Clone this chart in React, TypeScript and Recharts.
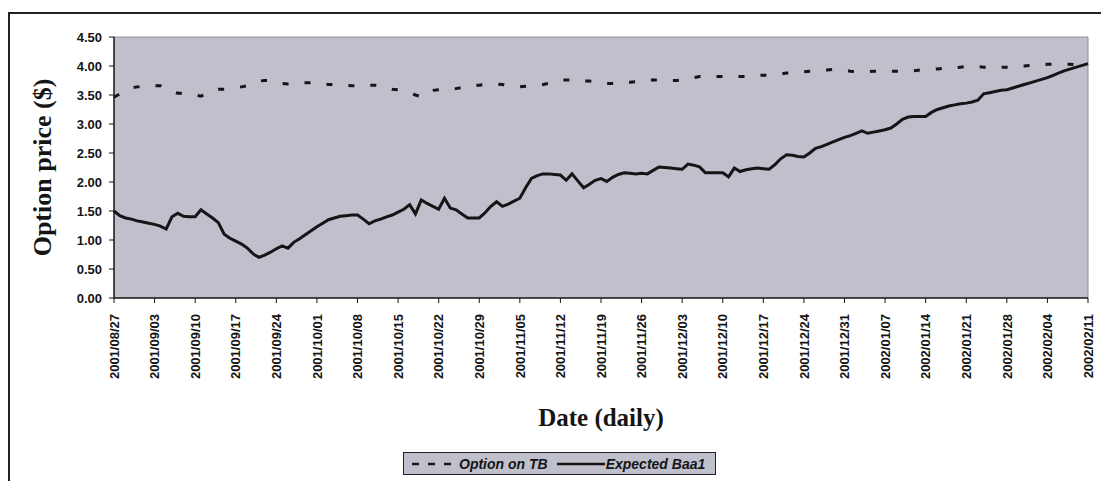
import { LineChart, Line, XAxis, YAxis, CartesianGrid, ReferenceLine } from 'recharts'

// Monday labels, one every 7 days
const TICK_LABELS = [
  '2001/08/27', '2001/09/03', '2001/09/10', '2001/09/17', '2001/09/24',
  '2001/10/01', '2001/10/08', '2001/10/15', '2001/10/22', '2001/10/29',
  '2001/11/05', '2001/11/12', '2001/11/19', '2001/11/26', '2001/12/03',
  '2001/12/10', '2001/12/17', '2001/12/24', '2001/12/31', '2002/01/07',
  '2002/01/14', '2002/01/21', '2002/01/28', '2002/02/04', '2002/02/11'
]

const Y_TICKS = [0, 0.5, 1, 1.5, 2, 2.5, 3, 3.5, 4, 4.5]

// daily values, 2001/08/27 .. 2002/02/11
const OPTION_TB = [
  3.46, 3.52, 3.57, 3.62, 3.64, 3.65, 3.65, 3.66, 3.66, 3.62,
  3.56, 3.53, 3.53, 3.52, 3.50, 3.48, 3.52, 3.57, 3.60, 3.60,
  3.61, 3.63, 3.64, 3.66, 3.70, 3.74, 3.75, 3.75, 3.72, 3.70,
  3.69, 3.70, 3.71, 3.71, 3.71, 3.70, 3.69, 3.68, 3.68, 3.67,
  3.67, 3.66, 3.66, 3.67, 3.67, 3.67, 3.66, 3.63, 3.60, 3.59,
  3.57, 3.54, 3.50, 3.47, 3.55, 3.58, 3.59, 3.60, 3.60, 3.61,
  3.63, 3.65, 3.67, 3.67, 3.68, 3.69, 3.69, 3.68, 3.66, 3.65,
  3.64, 3.65, 3.66, 3.67, 3.68, 3.70, 3.73, 3.76, 3.76, 3.76,
  3.75, 3.74, 3.74, 3.73, 3.71, 3.70, 3.70, 3.71, 3.72, 3.72,
  3.73, 3.75, 3.76, 3.76, 3.76, 3.75, 3.75, 3.75, 3.76, 3.78,
  3.80, 3.82, 3.82, 3.82, 3.82, 3.82, 3.82, 3.82, 3.82, 3.82,
  3.83, 3.84, 3.84, 3.84, 3.85, 3.86, 3.88, 3.88, 3.89, 3.90,
  3.91, 3.91, 3.92, 3.93, 3.94, 3.94, 3.93, 3.91, 3.90, 3.90,
  3.90, 3.91, 3.91, 3.91, 3.91, 3.91, 3.91, 3.91, 3.92, 3.93,
  3.93, 3.94, 3.95, 3.96, 3.96, 3.97, 3.98, 3.99, 3.99, 3.99,
  3.98, 3.98, 3.98, 3.98, 3.98, 3.98, 3.99, 4.00, 4.01, 4.02,
  4.02, 4.03, 4.03, 4.03, 4.03, 4.03, 4.02, 4.02, 4.02
]

const EXPECTED_BAA1 = [
  1.50, 1.42, 1.38, 1.36, 1.33, 1.31, 1.29, 1.27, 1.24, 1.19,
  1.40, 1.46, 1.41, 1.40, 1.40, 1.52, 1.45, 1.38, 1.30, 1.10,
  1.03, 0.98, 0.93, 0.86, 0.76, 0.70, 0.74, 0.79, 0.85, 0.90,
  0.86, 0.96, 1.02, 1.09, 1.16, 1.23, 1.29, 1.35, 1.38, 1.41,
  1.42, 1.43, 1.43, 1.36, 1.28, 1.33, 1.36, 1.40, 1.43, 1.48,
  1.53, 1.61, 1.45, 1.69, 1.63, 1.58, 1.53, 1.72, 1.55, 1.52,
  1.45, 1.38, 1.38, 1.38, 1.47, 1.58, 1.66, 1.58, 1.62, 1.67,
  1.72, 1.90, 2.06, 2.11, 2.14, 2.14, 2.13, 2.12, 2.03, 2.14,
  2.02, 1.90, 1.96, 2.03, 2.06, 2.01, 2.08, 2.13, 2.16, 2.15,
  2.14, 2.15, 2.14, 2.20, 2.26, 2.25, 2.24, 2.23, 2.22, 2.31,
  2.29, 2.26, 2.16, 2.16, 2.16, 2.16, 2.09, 2.24, 2.18, 2.21,
  2.23, 2.24, 2.23, 2.22, 2.30, 2.40, 2.47, 2.46, 2.44, 2.43,
  2.50, 2.58, 2.61, 2.65, 2.69, 2.73, 2.77, 2.80, 2.84, 2.88,
  2.84, 2.86, 2.88, 2.90, 2.93, 3.00, 3.08, 3.12, 3.13, 3.13,
  3.13, 3.20, 3.25, 3.28, 3.31, 3.33, 3.35, 3.36, 3.38, 3.41,
  3.52, 3.54, 3.56, 3.58, 3.59, 3.62, 3.65, 3.68, 3.71, 3.74,
  3.77, 3.80, 3.84, 3.88, 3.92, 3.95, 3.98, 4.01, 4.04
]

const data = OPTION_TB.map((tb, i) => ({ day: i, tb, baa: EXPECTED_BAA1[i] }))
const X_TICKS = TICK_LABELS.map((_, i) => i * 7)
const LAST_DAY = OPTION_TB.length - 1

const PLOT_BG = '#bfc0cc'
const INK = '#151515'
const SANS = '"Liberation Sans", Arial, sans-serif'
const SERIF = '"Liberation Serif", "Times New Roman", serif'

const DateTick = (props: any) => {
  const { x, y, payload } = props
  const label = TICK_LABELS[Math.round(payload.value / 7)]
  return (
    <text
      x={x}
      y={y + 9}
      transform={`rotate(-90 ${x} ${y + 9})`}
      textAnchor='end'
      dy='0.36em'
      fontFamily={SANS}
      fontWeight='bold'
      fontSize={13}
      fill={INK}
    >
      {label}
    </text>
  )
}

const YTitle = (props: any) => {
  const { viewBox } = props
  const cx = viewBox.x + 24
  const cy = viewBox.y + viewBox.height / 2
  return (
    <text
      x={cx}
      y={cy}
      transform={`rotate(-90 ${cx} ${cy})`}
      textAnchor='middle'
      dy='0.35em'
      fontFamily={SERIF}
      fontWeight='bold'
      fontSize={26}
      fill={INK}
    >
      Option price ($)
    </text>
  )
}

const LegendBox = () => (
  <div
    style={{
      position: 'absolute',
      left: 395,
      top: 444,
      width: 313,
      height: 23,
      background: PLOT_BG,
      border: '1px solid #222',
      boxSizing: 'border-box',
      display: 'flex',
      alignItems: 'center',
      fontFamily: SANS,
      fontWeight: 'bold',
      fontStyle: 'italic',
      fontSize: 14,
      color: INK
    }}
  >
    <svg width={44} height={10} style={{ marginLeft: 8 }}>
      <line x1={0} y1={5} x2={42} y2={5} stroke={INK} strokeWidth={2.5} strokeDasharray='7 9' />
    </svg>
    <span style={{ marginLeft: 3 }}>Option on TB</span>
    <svg width={50} height={10} style={{ marginLeft: 7 }}>
      <line x1={2} y1={5} x2={50} y2={5} stroke={INK} strokeWidth={2.5} />
    </svg>
    <span style={{ marginLeft: 1 }}>Expected Baa1</span>
  </div>
)

const App = () => {
  return (
    <div style={{ position: 'relative', width: 1093, height: 473, overflow: 'hidden', background: '#fff' }}>
      <div
        style={{
          position: 'absolute',
          left: 0,
          top: 4,
          width: 1300,
          height: 700,
          borderLeft: '2px solid #222',
          borderTop: '2px solid #222'
        }}
      />
      <div style={{ position: 'absolute', left: 0, top: 0 }}>
        <LineChart
          width={1093}
          height={473}
          data={data}
          margin={{ top: 29, right: 13, left: 10, bottom: 53 }}
        >
          <CartesianGrid horizontal={false} vertical={false} fill={PLOT_BG} />
          <ReferenceLine y={4.5} stroke='#8e8f99' strokeWidth={1} />
          <ReferenceLine x={LAST_DAY} stroke='#8e8f99' strokeWidth={1} />
          <XAxis
            dataKey='day'
            type='number'
            domain={[0, LAST_DAY]}
            ticks={X_TICKS}
            interval={0}
            height={130}
            tick={<DateTick />}
            tickSize={5}
            axisLine={{ stroke: INK, strokeWidth: 1.5 }}
            tickLine={{ stroke: INK }}
            label={{
              value: 'Date (daily)',
              position: 'insideBottom',
              offset: 2,
              style: { fontFamily: SERIF, fontWeight: 'bold', fontSize: 25, fill: INK }
            }}
          />
          <YAxis
            type='number'
            domain={[0, 4.5]}
            ticks={Y_TICKS}
            interval={0}
            width={96}
            tickSize={5}
            tickMargin={7}
            tickFormatter={(v: number) => v.toFixed(2)}
            tick={{ fontFamily: SANS, fontWeight: 'bold', fontSize: 13, fill: INK }}
            axisLine={{ stroke: INK, strokeWidth: 1.5 }}
            tickLine={{ stroke: INK }}
            label={<YTitle />}
          />
          <Line
            type='linear'
            dataKey='tb'
            stroke={INK}
            strokeWidth={3}
            strokeDasharray='6 16'
            dot={false}
            isAnimationActive={false}
          />
          <Line
            type='linear'
            dataKey='baa'
            stroke={INK}
            strokeWidth={3}
            dot={false}
            isAnimationActive={false}
          />
        </LineChart>
      </div>
      <LegendBox />
    </div>
  )
}

export default App
